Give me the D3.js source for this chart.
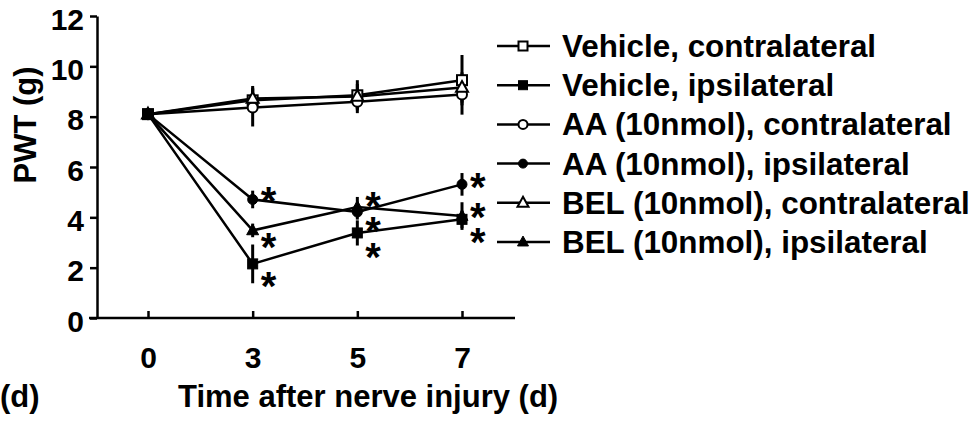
<!DOCTYPE html>
<html>
<head>
<meta charset="utf-8">
<script src="https://cdn.jsdelivr.net/npm/d3@7"></script>
<style>
  html, body { margin: 0; padding: 0; background: #fff; }
  svg { display: block; }
  text { font-family: "Liberation Sans", Arial, sans-serif; font-weight: bold; fill: #000; }
</style>
</head>
<body>
<svg id="chart" width="977" height="421"></svg>
<script>
// days after injury (categorical x)
const days = ["0", "3", "5", "7"];
const yTicks = [0, 2, 4, 6, 8, 10, 12];

// mean PWT (g) per day, and error bar half-length
const vehContra = [8.1, 8.65, 8.85, 9.45];
const vehContraErr = [0, 0.5, 0.6, 1.0];
const vehIpsi = [8.1, 2.15, 3.38, 3.92];
const vehIpsiErr = [0, 0.77, 0.5, 0.35];
const aaContra = [8.1, 8.36, 8.59, 8.88];
const aaContraErr = [0, 0.75, 0.45, 0.8];
const aaIpsi = [8.1, 4.71, 4.21, 5.31];
const aaIpsiErr = [0, 0.35, 0.3, 0.45];
const belContra = [8.1, 8.72, 8.8, 9.16];
const belContraErr = [0, 0.5, 0.5, 0.6];
const belIpsi = [8.1, 3.48, 4.41, 4.05];
const belIpsiErr = [0, 0.27, 0.4, 0.55];

const seriesNames = [
  "Vehicle, contralateral",
  "Vehicle, ipsilateral",
  "AA (10nmol), contralateral",
  "AA (10nmol), ipsilateral",
  "BEL (10nmol), contralateral",
  "BEL (10nmol), ipsilateral"
];

// significance asterisks: [day, level in g]
const starDays = ["3", "3", "3", "5", "5", "5", "7", "7", "7"];
const starLevels = [5.0, 3.18, 1.63, 4.8, 3.81, 2.78, 5.56, 4.37, 3.38];

const series = [
  { name: seriesNames[0], values: vehContra, err: vehContraErr, shape: "square", filled: false },
  { name: seriesNames[1], values: vehIpsi, err: vehIpsiErr, shape: "square", filled: true },
  { name: seriesNames[2], values: aaContra, err: aaContraErr, shape: "circle", filled: false },
  { name: seriesNames[3], values: aaIpsi, err: aaIpsiErr, shape: "circle", filled: true },
  { name: seriesNames[4], values: belContra, err: belContraErr, shape: "triangle", filled: false },
  { name: seriesNames[5], values: belIpsi, err: belIpsiErr, shape: "triangle", filled: true }
];

const svg = d3.select("#chart");

const x = d3.scalePoint().domain(days).range([148, 462]);
const y = d3.scaleLinear().domain([0, 12]).range([318, 16]);

// axes
const yAxis = svg.append("g")
  .attr("transform", "translate(97,0)")
  .call(d3.axisLeft(y).tickValues(yTicks).tickSize(7).tickSizeOuter(0).tickFormat(d3.format("d")));
yAxis.select(".domain").attr("stroke", "#000").attr("stroke-width", 2.5);
yAxis.selectAll(".tick line").attr("stroke", "#000").attr("stroke-width", 2.5);
yAxis.selectAll(".tick text")
  .attr("x", -13).attr("dy", null).attr("y", 13)
  .style("font-size", "30px").style("font-family", "Liberation Sans, Arial, sans-serif")
  .style("font-weight", "bold");

const xAxis = svg.append("g")
  .attr("transform", "translate(0,318)")
  .call(d3.axisBottom(x).tickSize(-7).tickSizeOuter(0));
xAxis.select(".domain").remove();
xAxis.selectAll(".tick line").attr("stroke", "#000").attr("stroke-width", 2.5);
xAxis.selectAll(".tick text")
  .attr("y", 50).attr("dy", null)
  .style("font-size", "30px").style("font-family", "Liberation Sans, Arial, sans-serif")
  .style("font-weight", "bold");
// baseline of the x axis runs past the y axis and the last day
xAxis.append("line")
  .attr("x1", 89).attr("x2", 515)
  .attr("stroke", "#000").attr("stroke-width", 2.5);

// axis titles
svg.append("text")
  .attr("transform", "translate(36,125) rotate(-90)")
  .attr("text-anchor", "middle")
  .style("font-size", "31px")
  .text("PWT (g)");

svg.append("text")
  .attr("x", 178).attr("y", 407)
  .style("font-size", "31px")
  .text("Time after nerve injury (d)");

svg.append("text")
  .attr("x", 0).attr("y", 407)
  .style("font-size", "31px")
  .text("(d)");

// marker drawer
function marker(sel, shape, filled, size) {
  let m;
  if (shape === "square") {
    m = sel.append("rect")
      .attr("x", -size / 2).attr("y", -size / 2)
      .attr("width", size).attr("height", size);
  } else if (shape === "circle") {
    m = sel.append("circle").attr("r", size / 2);
  } else {
    const h = size * 0.9;
    m = sel.append("path")
      .attr("d", `M0,${-h * 0.6}L${size / 2},${h * 0.4}L${-size / 2},${h * 0.4}Z`);
  }
  m.attr("fill", filled ? "#000" : "#fff")
    .attr("stroke", "#000")
    .attr("stroke-width", filled ? 1 : 2);
}

const line = d3.line()
  .x((d, i) => x(days[i]))
  .y(d => y(d));

const plot = svg.append("g");

// lines
plot.selectAll("path.series")
  .data(series)
  .join("path")
  .attr("class", "series")
  .attr("d", d => line(d.values))
  .attr("fill", "none")
  .attr("stroke", "#000")
  .attr("stroke-width", 2.5);

// error bars
series.forEach(s => {
  plot.append("g")
    .selectAll("line")
    .data(s.values.map((v, i) => ({ day: days[i], v, e: s.err[i] })).filter(d => d.e > 0))
    .join("line")
    .attr("x1", d => x(d.day)).attr("x2", d => x(d.day))
    .attr("y1", d => y(d.v - d.e)).attr("y2", d => y(d.v + d.e))
    .attr("stroke", "#000")
    .attr("stroke-width", 3);
});

// markers (open ones first, so filled ones sit on top at day 0)
series.slice().sort((a, b) => a.filled - b.filled).forEach(s => {
  s.values.forEach((v, i) => {
    const g = plot.append("g").attr("transform", `translate(${x(days[i])},${y(v)})`);
    marker(g, s.shape, s.filled, s.shape === "triangle" ? 12 : 10);
  });
});

// asterisks
svg.append("g")
  .selectAll("text")
  .data(starLevels.map((v, i) => ({ day: starDays[i], v })))
  .join("text")
  .attr("x", d => x(d.day) + 8)
  .attr("y", d => y(d.v) + 23)
  .style("font-size", "40px")
  .text("*");

// legend
const legend = svg.append("g");
const rowY = d3.scaleLinear().domain([0, 5]).range([46, 242]);
series.forEach((s, i) => {
  const g = legend.append("g").attr("transform", `translate(0,${rowY(i)})`);
  g.append("line")
    .attr("x1", 497).attr("x2", 550)
    .attr("stroke", "#000").attr("stroke-width", 2.5);
  const mg = g.append("g").attr("transform", "translate(523,0)");
  marker(mg, s.shape, s.filled, s.shape === "triangle" ? 11 : 9);
  g.append("text")
    .attr("x", 562).attr("y", 11)
    .style("font-size", "31.4px")
    .text(s.name);
});
</script>
</body>
</html>
